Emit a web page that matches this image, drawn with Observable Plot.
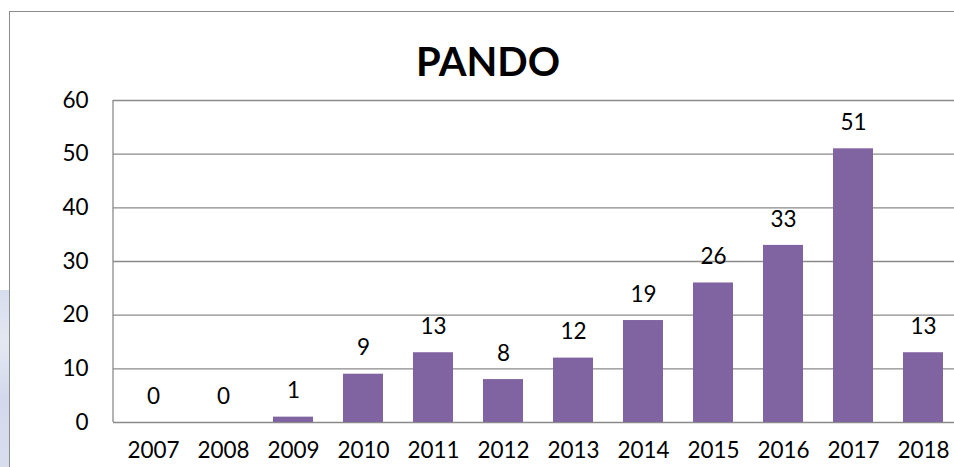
<!DOCTYPE html>
<html>
<head>
<meta charset="utf-8">
<script src="https://cdn.jsdelivr.net/npm/d3@7"></script>
<script src="https://cdn.jsdelivr.net/npm/@observablehq/plot@0.6"></script>
<style>
  html, body { margin: 0; padding: 0; background: #fff; }
  body { width: 954px; height: 467px; overflow: hidden; position: relative; font-family: Lato, "Open Sans", sans-serif; }
  #strip { position: absolute; left: 0; top: 290px; width: 9px; bottom: 0;
           background: linear-gradient(180deg, #d6dded 0%, #e4e8f2 30%, #d3d9ec 60%, #d8ddee 100%); }
  #frame { position: absolute; left: 9px; top: 11px; width: 970px; height: 500px;
           border: 1.3px solid #8c8c8c; box-sizing: border-box; }
  #title { position: absolute; left: 9px; width: 958px; top: 37px; line-height: 40px; z-index: 2;
           text-align: center; font: bold 40px Lato, sans-serif; color: #000; }
  #chart { position: absolute; left: 0; top: 70px; z-index: 1; }
</style>
</head>
<body>
<div id="strip"></div>
<div id="frame"></div>
<div id="title">PANDO</div>
<div id="chart"></div>
<script>
const years = ["2007","2008","2009","2010","2011","2012","2013","2014","2015","2016","2017","2018"];
const counts = [0, 0, 1, 9, 13, 8, 12, 19, 26, 33, 51, 13];
const yTicks = [0, 10, 20, 30, 40, 50, 60];

const data = years.map((y, i) => ({year: y, value: counts[i]}));

// left axis line drawn from the y scale
function leftAxisLine(index, scales, values, dims) {
  const line = document.createElementNS("http://www.w3.org/2000/svg", "line");
  line.setAttribute("x1", dims.marginLeft);
  line.setAttribute("x2", dims.marginLeft);
  line.setAttribute("y1", scales.y(yTicks[0]));
  line.setAttribute("y2", scales.y(yTicks[yTicks.length - 1]));
  line.setAttribute("stroke", "#8a8a8a");
  line.setAttribute("stroke-width", "1.3");
  return line;
}

const plot = Plot.plot({
  width: 970,
  height: 397,
  marginLeft: 113,
  marginRight: 7.4,
  marginTop: 30,
  marginBottom: 45,
  style: {maxWidth: "none", overflow: "hidden", background: "transparent", fontFamily: "Lato, sans-serif"},
  x: {domain: years, paddingInner: 0.435, paddingOuter: 0.2175, label: null},
  y: {domain: [0, 60], ticks: yTicks, label: null},
  marks: [
    Plot.gridY(yTicks, {stroke: "#8a8a8a", strokeOpacity: 1, strokeWidth: 1.3}),
    Plot.barY(data, {x: "year", y: "value", fill: "#8064A2"}),
    Plot.text(data, {x: "year", y: "value", text: d => String(d.value), dy: -26,
      lineAnchor: "middle", fontSize: 22.5, fill: "#000"}),
    Plot.axisY(yTicks, {tickSize: 0, tickPadding: 25, fontSize: 22.5, fill: "#000", label: null}),
    Plot.axisX({tickSize: 0, tickPadding: 20, fontSize: 22.5, fill: "#000", label: null}),
    leftAxisLine
  ]
});
document.getElementById("chart").appendChild(plot);
</script>
</body>
</html>
